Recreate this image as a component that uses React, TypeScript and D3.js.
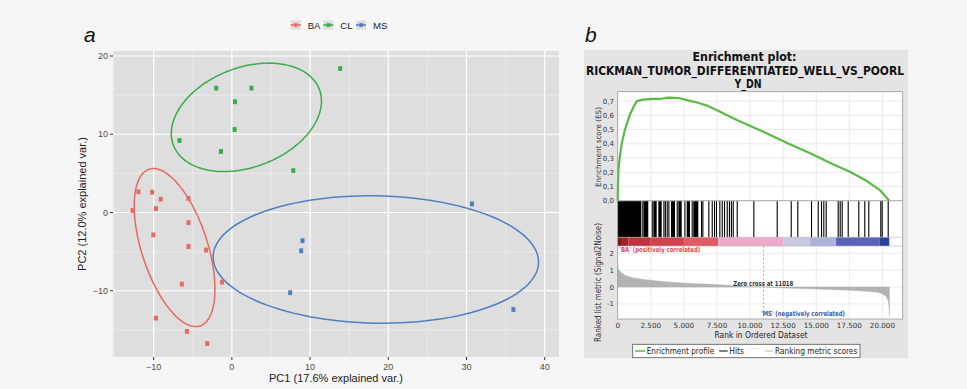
import React from "react";
import * as d3 from "d3";

// ---------- Panel a: PCA biplot ----------
const groups = ["BA", "CL", "MS"];
const groupColors = ["#E8695E", "#37AE47", "#4E7FC3"];

const baPC1 = [-12.7, -11.95, -10.2, -9.1, -5.55, -9.7, -5.55, -10.05, -5.55, -3.3, -6.4, -1.25, -9.7, -5.75, -3.15];
const baPC2 = [0.25, 2.65, 2.6, 1.7, 1.8, 0.5, -1.3, -2.86, -4.35, -4.8, -9.15, -8.9, -13.5, -15.2, -16.75];
const clPC1 = [13.85, -2.0, 2.5, 0.4, 0.35, -6.7, -1.4, 7.85];
const clPC2 = [18.4, 15.9, 15.9, 14.15, 10.6, 9.2, 7.8, 5.35];
const msPC1 = [9.03, 8.86, 7.45, 30.7, 36.0];
const msPC2 = [-3.6, -4.9, -10.25, 1.1, -12.4];

const pcXTicks = [-10, 0, 10, 20, 30, 40];
const pcYTicks = [-10, 0, 10, 20];
const ellipseProb = 0.68;

// ---------- Panel b: GSEA enrichment plot ----------
const esRank = [0, 20, 60, 150, 300, 550, 900, 1200, 1450, 1900, 2600, 3200, 3600, 4000, 4700, 5300, 6000, 6700, 7500, 9000, 11000, 12800, 14500, 16300, 17500, 18800, 19800, 20520];
const esValue = [0, 0.12, 0.22, 0.3, 0.4, 0.5, 0.6, 0.66, 0.7, 0.71, 0.715, 0.715, 0.722, 0.725, 0.72, 0.705, 0.69, 0.67, 0.635, 0.567, 0.485, 0.405, 0.335, 0.255, 0.205, 0.14, 0.075, 0];

// hit positions as [start, end] rank spans
const hitSpans: [number, number][] = [
  [0, 1760], [1810, 1810], [1935, 2311], [2567, 2567], [2690, 2945], [3070, 3323], [3450, 3450], [3560, 3560],
  [3700, 3700], [3826, 3826], [4025, 4330], [4456, 4456], [4580, 4834], [5035, 5035], [5210, 5460], [5587, 5587],
  [5710, 6090], [6290, 6290], [6392, 6392], [6843, 6843], [7100, 7100], [7273, 7273], [7424, 7424], [7674, 7674],
  [7855, 7855], [8029, 8029], [8233, 8233], [8400, 8400], [8550, 8550], [8686, 8686], [8988, 8988], [10242, 10242],
  [12009, 12009], [13066, 13066], [13565, 13565], [14600, 14600], [15106, 15106], [15355, 15355], [15529, 15529],
  [15710, 15710], [16616, 16616], [16767, 16767], [16918, 16918], [17372, 17372], [18172, 18172], [18625, 18625],
  [18927, 18927], [19834, 19834], [19940, 19940], [20393, 20393],
];

const heatStart = [0, 250, 800, 2500, 5000, 7600, 12500, 14500, 16500, 19800];
const heatEnd = [250, 800, 2500, 5000, 7600, 12500, 14500, 16500, 19800, 20520];
const heatColor = ["#7d1518", "#a3222a", "#c1323c", "#d2434c", "#e05c64", "#f0a9c9", "#c9c9e4", "#aeb1da", "#5a62b8", "#2d3f9c"];

const metricRank = [0, 40, 200, 600, 1200, 2100, 3200, 4600, 6000, 7100, 8900, 10000, 11018, 12500, 14000, 15500, 17000, 18300, 19200, 19600, 20000, 20300, 20450, 20510, 20530];
const metricValue = [1.25, 1.05, 0.9, 0.67, 0.54, 0.44, 0.34, 0.25, 0.2, 0.16, 0.08, 0.04, 0, -0.05, -0.09, -0.13, -0.17, -0.22, -0.27, -0.31, -0.4, -0.58, -0.85, -1.3, -1.75];

const rankTicks = [0, 2500, 5000, 7500, 10000, 12500, 15000, 17500, 20000];
const esTicks = [0, 0.1, 0.2, 0.3, 0.4, 0.5, 0.6, 0.7];
const metricTicks = [2, 1, 0, -1];
const zeroCross = 11018;

function cov(a: number[], b: number[]) {
  const ma = d3.mean(a)!, mb = d3.mean(b)!;
  let s = 0;
  for (let i = 0; i < a.length; i++) s += (a[i] - ma) * (b[i] - mb);
  return s / (a.length - 1);
}

// normal-data ellipse from the group covariance (Cholesky factor of sigma)
function ellipsePoints(xs: number[], ys: number[]) {
  const sxx = cov(xs, xs), syy = cov(ys, ys), sxy = cov(xs, ys);
  const a = Math.sqrt(sxx);
  const b = sxy / a;
  const c = Math.sqrt(syy - b * b);
  const ed = Math.sqrt(-2 * Math.log(1 - ellipseProb));
  const mx = d3.mean(xs)!, my = d3.mean(ys)!;
  const pts: [number, number][] = [];
  for (let i = 0; i <= 120; i++) {
    const t = -Math.PI + (2 * Math.PI * i) / 120;
    const cx = Math.cos(t), sy = Math.sin(t);
    pts.push([mx + ed * cx * a, my + ed * (cx * b + sy * c)]);
  }
  return pts;
}

const fmtRank = (v: number) => (v === 0 ? "0" : d3.format(",")(v).replace(/,/g, "."));
const fmtES = (v: number) => v.toFixed(1).replace(".", ",");

export default function App() {
  // panel a scales
  const xA = d3.scaleLinear().domain([-15.2, 41.83]).range([113, 559]);
  const yA = d3.scaleLinear().domain([-18.47, 20.64]).range([357, 51]);
  const groupX = [baPC1, clPC1, msPC1];
  const groupY = [baPC2, clPC2, msPC2];
  const line = d3.line<[number, number]>().x((d) => xA(d[0])).y((d) => yA(d[1]));
  const xMinor = d3.range(-15, 42, 5).filter((v) => v % 10 !== 0);
  const yMinor = d3.range(-15, 21, 5).filter((v) => v % 10 !== 0);

  // panel b scales
  const xR = d3.scaleLinear().domain([0, 21530]).range([617.7, 902.7]);
  const yES = d3.scaleLinear().domain([0, 0.766]).range([200.7, 91.7]);
  const yM = d3.scaleLinear().domain([-1.89, 2.43]).range([319, 246]);
  const esLine = d3
    .line<number>()
    .x((_, i) => xR(esRank[i]))
    .y((d) => yES(d));
  const metricArea = d3
    .area<number>()
    .x((_, i) => xR(metricRank[i]))
    .y0(yM(0))
    .y1((d) => yM(d));

  const fontA = "'Liberation Sans', Arial, sans-serif";
  const fontB = "'DejaVu Sans', sans-serif";
  const hitTop = 201.2;
  const hitBottom = 237.3;
  const heatBottom = 246;

  return (
    <svg width={967} height={389} style={{ position: "absolute", left: 0, top: 0 }}>
      <rect width={967} height={389} fill="#f6f6f6" />

      {/* ---- panel a ---- */}
      <text x={84} y={42} fontFamily={fontA} fontStyle="italic" fontSize={21} fill="#111">a</text>

      {/* legend */}
      <g fontFamily={fontA} fontSize={9.5} fill="#222">
        {groups.map((g, i) => {
          const x0 = [290.7, 323.3, 356][i];
          return (
            <g key={g}>
              <rect x={x0} y={20.5} width={10} height={9} fill="#dcdcdc" />
              <line x1={x0} x2={x0 + 10} y1={25} y2={25} stroke={groupColors[i]} strokeWidth={1.5} />
              <rect x={x0 + 3.3} y={23.2} width={3.6} height={3.6} fill={groupColors[i]} />
              <text x={x0 + 17} y={28.5}>{g}</text>
            </g>
          );
        })}
      </g>

      <defs>
        <clipPath id="plotA">
          <rect x={113} y={51} width={446} height={306} />
        </clipPath>
      </defs>
      <rect x={113} y={51} width={446} height={306} fill="#dedede" />
      {xMinor.map((v) => (
        <line key={"xm" + v} x1={xA(v)} x2={xA(v)} y1={51} y2={357} stroke="#f2f2f2" strokeWidth={0.6} />
      ))}
      {yMinor.map((v) => (
        <line key={"ym" + v} x1={113} x2={559} y1={yA(v)} y2={yA(v)} stroke="#f2f2f2" strokeWidth={0.6} />
      ))}
      {pcXTicks.map((v) => (
        <line key={"xg" + v} x1={xA(v)} x2={xA(v)} y1={51} y2={357} stroke="#fff" strokeWidth={1.2} />
      ))}
      {pcYTicks.map((v) => (
        <line key={"yg" + v} x1={113} x2={559} y1={yA(v)} y2={yA(v)} stroke="#fff" strokeWidth={1.2} />
      ))}

      <g clipPath="url(#plotA)">
        {groups.map((g, i) => (
          <path key={"e" + g} d={line(ellipsePoints(groupX[i], groupY[i]))!} fill="none" stroke={groupColors[i]} strokeWidth={1.5} />
        ))}
        {groups.map((g, i) =>
          groupX[i].map((xv, j) => (
            <rect key={g + j} x={xA(xv) - 2} y={yA(groupY[i][j]) - 2.4} width={4} height={4.8} fill={groupColors[i]} />
          ))
        )}
      </g>

      {/* axes */}
      <g fontFamily={fontA} fontSize={9} fill="#4d4d4d">
        {pcXTicks.map((v) => (
          <g key={"xt" + v}>
            <line x1={xA(v)} x2={xA(v)} y1={357} y2={360} stroke="#333" strokeWidth={1} />
            <text x={xA(v)} y={369.5} textAnchor="middle">{v < 0 ? "\u2212" + Math.abs(v) : v}</text>
          </g>
        ))}
        {pcYTicks.map((v) => (
          <g key={"yt" + v}>
            <line x1={110} x2={113} y1={yA(v)} y2={yA(v)} stroke="#333" strokeWidth={1} />
            <text x={108} y={yA(v) + 3.2} textAnchor="end">{v < 0 ? "\u2212" + Math.abs(v) : v}</text>
          </g>
        ))}
      </g>
      <text x={336} y={382} textAnchor="middle" fontFamily={fontA} fontSize={11} fill="#222">
        PC1 (17.6% explained var.)
      </text>
      <text transform="translate(85.5,204) rotate(-90)" textAnchor="middle" fontFamily={fontA} fontSize={11} fill="#222">
        PC2 (12.0% explained var.)
      </text>

      {/* ---- panel b ---- */}
      <text x={585} y={42} fontFamily={fontA} fontStyle="italic" fontSize={21} fill="#111">b</text>
      <rect x={584} y={50} width={324} height={308} fill="#e4e4e4" />

      <g fontFamily={fontB} fontWeight="bold" fill="#111" textAnchor="middle">
        <text x={744.5} y={60.8} fontSize={12.5} textLength={104} lengthAdjust="spacingAndGlyphs">Enrichment plot:</text>
        <text x={745} y={75.2} fontSize={12.5} textLength={318} lengthAdjust="spacingAndGlyphs">
          RICKMAN_TUMOR_DIFFERENTIATED_WELL_VS_POORL
        </text>
        <text x={748} y={88.4} fontSize={12} textLength={27} lengthAdjust="spacingAndGlyphs">Y_DN</text>
      </g>

      {/* plot background */}
      <rect x={617.7} y={91.7} width={285} height={227.3} fill="#fff" />

      {/* ES grid */}
      {rankTicks.map((v) => (
        <line key={"eg" + v} x1={xR(v)} x2={xR(v)} y1={91.7} y2={200.7} stroke="#e3e3e3" strokeWidth={0.8} />
      ))}
      {esTicks.map((v) => (
        <line key={"eh" + v} x1={617.7} x2={902.7} y1={yES(v)} y2={yES(v)} stroke="#e3e3e3" strokeWidth={0.8} />
      ))}
      {/* metric grid */}
      {rankTicks.map((v) => (
        <line key={"mg" + v} x1={xR(v)} x2={xR(v)} y1={heatBottom} y2={319} stroke="#e6e6e6" strokeWidth={0.8} />
      ))}
      {metricTicks.map((v) => (
        <line key={"mh" + v} x1={617.7} x2={902.7} y1={yM(v)} y2={yM(v)} stroke="#e6e6e6" strokeWidth={0.8} />
      ))}

      {/* ES curve */}
      <path d={esLine(esValue)!} fill="none" stroke="#5bb947" strokeWidth={2.2} strokeLinejoin="round" />
      <line x1={617.7} x2={902.7} y1={200.7} y2={200.7} stroke="#9a9a9a" strokeWidth={0.8} />

      {/* hits */}
      {hitSpans.map(([s, e], i) => (
        <rect key={"h" + i} x={xR(s)} y={hitTop} width={Math.max(xR(e) - xR(s), 1.1)} height={hitBottom - hitTop} fill="#000" />
      ))}
      {/* ranked-list heat bar */}
      {heatStart.map((s, i) => (
        <rect key={"hb" + i} x={xR(s)} y={hitBottom} width={xR(heatEnd[i]) - xR(s)} height={heatBottom - hitBottom} fill={heatColor[i]} />
      ))}
      <line x1={617.7} x2={902.7} y1={hitBottom} y2={hitBottom} stroke="#b0b0b0" strokeWidth={0.6} />
      <line x1={617.7} x2={902.7} y1={heatBottom} y2={heatBottom} stroke="#b0b0b0" strokeWidth={0.6} />

      {/* ranked metric */}
      <path d={metricArea(metricValue)!} fill="#b3b3b3" stroke="#a9a9a9" strokeWidth={0.4} />
      <line x1={xR(zeroCross)} x2={xR(zeroCross)} y1={heatBottom} y2={319} stroke="#9a9a9a" strokeWidth={0.7} strokeDasharray="2,2" />

      <rect x={617.7} y={91.7} width={285} height={227.3} fill="none" stroke="#9a9a9a" strokeWidth={0.8} />

      {/* annotations */}
      <g fontFamily={fontB} fontWeight="bold" fontSize={7}>
        <text x={619.3} y={252.3} fill="#d94a55" textLength={81} lengthAdjust="spacingAndGlyphs">'BA' (positively correlated)</text>
        <text x={763.3} y={285.5} fill="#333" textAnchor="middle" textLength={60} lengthAdjust="spacingAndGlyphs">Zero cross at 11018</text>
        <text x={761} y={316.3} fill="#3a5aad" textLength={84} lengthAdjust="spacingAndGlyphs">'MS' (negatively correlated)</text>
      </g>

      {/* ES axis */}
      <g fontFamily={fontB} fontSize={7} fill="#333" textAnchor="end">
        {esTicks.map((v) => (
          <text key={"et" + v} x={614} y={yES(v) + 2.5}>{fmtES(v)}</text>
        ))}
        {metricTicks.map((v) => (
          <text key={"mt" + v} x={614} y={yM(v) + 2.5}>{v}</text>
        ))}
      </g>
      <g fontFamily={fontB} fontSize={7.2} fill="#333" textAnchor="middle">
        {rankTicks.map((v) => (
          <text key={"rt" + v} x={xR(v)} y={328.3}>{fmtRank(v)}</text>
        ))}
      </g>
      <text x={761} y={337.8} textAnchor="middle" fontFamily={fontB} fontSize={8.5} fill="#222" textLength={93} lengthAdjust="spacingAndGlyphs">
        Rank in Ordered Dataset
      </text>
      <text transform="translate(601,147) rotate(-90)" textAnchor="middle" fontFamily={fontB} fontSize={7.5} fill="#333" textLength={80} lengthAdjust="spacingAndGlyphs">
        Enrichment score (ES)
      </text>
      <text transform="translate(601,282.5) rotate(-90)" textAnchor="middle" fontFamily={fontB} fontSize={8.2} fill="#333" textLength={119} lengthAdjust="spacingAndGlyphs">
        Ranked list metric (Signal2Noise)
      </text>

      {/* legend */}
      <rect x={632.7} y={344.3} width={227.3} height={13.4} fill="#fff" stroke="#555" strokeWidth={0.8} />
      <g fontFamily={fontB} fontSize={8.5} fill="#222">
        <line x1={635} x2={645} y1={351} y2={351} stroke="#5bb947" strokeWidth={1.5} />
        <text x={646.7} y={354} textLength={67.6} lengthAdjust="spacingAndGlyphs">Enrichment profile</text>
        <line x1={719.3} x2={727.7} y1={351} y2={351} stroke="#000" strokeWidth={1} />
        <text x={729.3} y={354} textLength={14.7} lengthAdjust="spacingAndGlyphs">Hits</text>
        <line x1={750} x2={758.3} y1={348.5} y2={348.5} stroke="#e6e6e6" strokeWidth={1} />
        <line x1={765} x2={773.3} y1={351} y2={351} stroke="#bbb" strokeWidth={1} />
        <text x={775} y={354} textLength={82.3} lengthAdjust="spacingAndGlyphs">Ranking metric scores</text>
      </g>
    </svg>
  );
}
